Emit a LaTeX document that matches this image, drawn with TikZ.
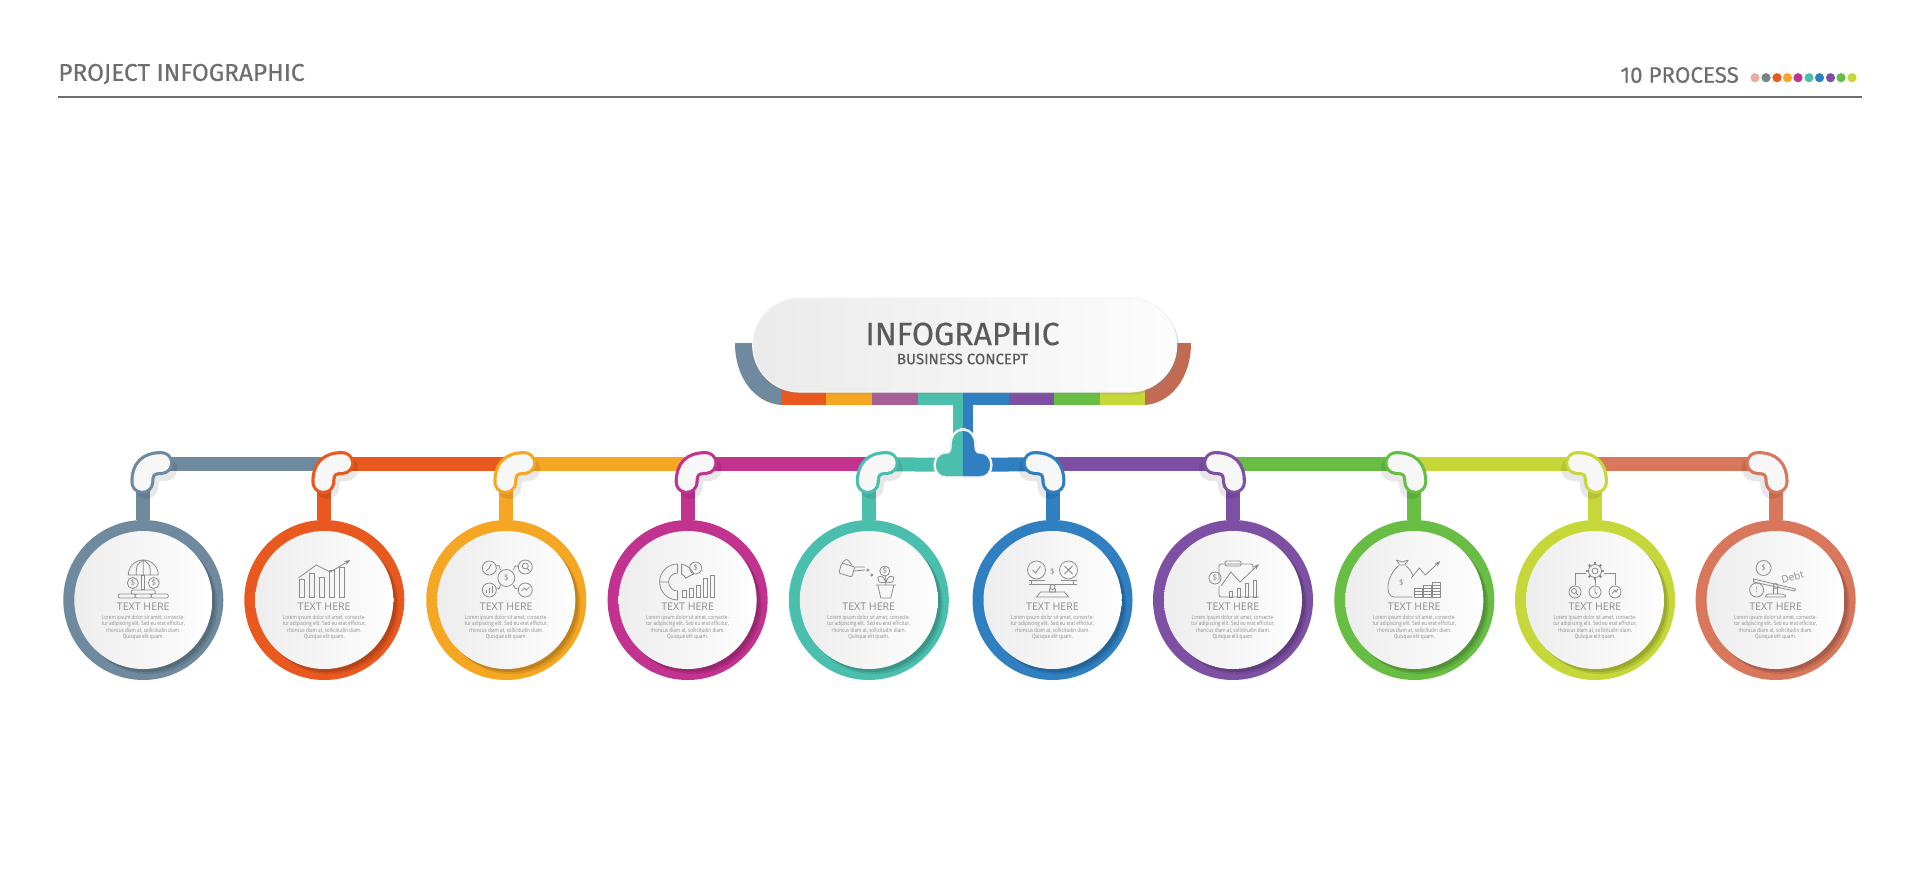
\documentclass[tikz,border=0pt]{standalone}
\usepackage{fontspec}
\setmainfont{Open Sans}
\newfontfamily\dinfont[FakeBold=.35]{Fira Sans}
\newfontfamily\bodyfont[FakeStretch=.8]{Open Sans}
\usetikzlibrary{shadows,arrows.meta}
\definecolor{ringslate}{HTML}{6F8A9E}
\definecolor{ringorange}{HTML}{E8581F}
\definecolor{ringamber}{HTML}{F5A623}
\definecolor{ringmagenta}{HTML}{C2328F}
\definecolor{ringteal}{HTML}{4BBFAE}
\definecolor{ringblue}{HTML}{2F7FC1}
\definecolor{ringpurple}{HTML}{7D50A3}
\definecolor{ringgreen}{HTML}{68BD45}
\definecolor{ringlime}{HTML}{C6D73A}
\definecolor{ringsalmon}{HTML}{D8775C}
\definecolor{bandmagenta}{HTML}{A65F95}
\definecolor{iconink}{HTML}{8C8C8C}
\definecolor{headink}{HTML}{6E6E6E}
\definecolor{titleink}{HTML}{5A5A5A}
\newcommand\loremtext{Lorem ipsum dolor sit amet, consecte-\\tur adipiscing elit. Sed eu erat efficitur,\\rhoncus diam at, sollicitudin diam.\\Quisque elit quam.}
\newcommand\iconUmbrella{
  \draw (-15,-25) arc[start angle=180,end angle=360,radius=15] -- cycle;
  \draw (0,-40) .. controls (-7,-35) .. (-7,-25) (0,-40) .. controls (7,-35) .. (7,-25) (0,-40) -- (0,-25);
  \draw (-1.5,-25) rectangle (1.5,-11);
  \draw (-10.5,-17) circle (5.5) (10.5,-17) circle (5.5);
  \node[icontext] at (-10.5,-17) {\$};
  \node[icontext] at (10.5,-17) {\$};
  \draw[rounded corners=.6pt] (-25,-6) rectangle (-8,-2) (-12,-10) rectangle (12,-6) (-8,-6) rectangle (8,-2) (8,-6) rectangle (25,-2);
}
\newcommand\iconChart{
  \foreach \a/\t in {-25/-21,-15/-27,-5/-23,5/-30,15/-33}
    \draw (\a,-3) rectangle (\a+5,\t);
  \draw[-{Stealth[length=3pt]}] (-26,-22) -- (-8,-35) -- (6,-28) -- (26,-40);
}
\newcommand\iconNetwork{
  \draw (0,-22) circle (8.5);
  \node[icontext] at (0,-22) {\$};
  \foreach \a/\b in {-17/-32,19/-33,-17/-10,19/-10}
    \draw (\a,\b) circle (7);
  \draw (-17,-32) -- (-15,-36) (-17,-32) -- (-20,-29);
  \draw (19,-34) circle (3) (21,-32) -- (23,-29);
  \draw (-20,-7) -- (-20,-10) (-17,-7) -- (-17,-12) (-14,-7) -- (-14,-14);
  \draw (15,-9) -- (18,-12) -- (20,-10) -- (23,-13);
  \draw (-10,-34) .. controls (-7,-35) .. (-6,-30) (12,-33) .. controls (9,-35) .. (7,-30) (-10,-11) .. controls (-7,-11) .. (-6,-15) (12,-11) .. controls (9,-11) .. (7,-15);
}
\newcommand\iconDonut{
  \draw (-10,-36) arc[start angle=270,end angle=90,radius=18];
  \draw (-6,-36) arc[start angle=-77,end angle=-25,radius=18];
  \draw (-10,-27) arc[start angle=270,end angle=90,radius=9];
  \draw (-6,-26) arc[start angle=-65,end angle=-25,radius=9];
  \draw (-10,-36) -- (-10,-27) (-28,-18) -- (-19,-18) (-10,-9) -- (-10,0) (-6,-36) -- (-6,-26) (6,-26) -- (-2,-22);
  \draw (8,-32) circle (6);
  \node[icontext] at (8,-32) {\$};
  \foreach \a/\t in {-5/-10,2/-12,9/-15,16/-22,23/-25}
    \draw (\a,-3) rectangle (\a+4,\t);
}
\newcommand\iconCan{
  \draw[rounded corners=.6pt] (-27,-37) -- (-14,-33) -- (-17,-23) -- (-30,-27) -- cycle;
  \draw (-14,-33) -- (-4,-33) (-15,-29) -- (-4,-30) (-27,-37) .. controls (-22,-42) .. (-17,-35);
  \draw (-1,-30) circle (1) (3,-25) circle (1);
  \draw (16,-29) circle (5);
  \node[icontext] at (16,-29) {\$};
  \draw (17,-15) -- (17,-24) (17,-18) .. controls (10,-17) .. (9,-23) .. controls (14,-24) .. (17,-18) (17,-18) .. controls (24,-17) .. (25,-23) .. controls (20,-24) .. (17,-18);
  \draw (7,-15) -- (27,-15) (9,-15) -- (12,-2) -- (22,-2) -- (25,-15);
}
\newcommand\iconScales{
  \draw (-16,-30) circle (9) (16,-30) circle (9);
  \draw (-20,-30) -- (-17,-27) -- (-12,-34) (12,-34) -- (20,-26) (20,-34) -- (12,-26);
  \node[icontext] at (0,-28) {\$};
  \draw (-24,-20) -- (-8,-20) (8,-20) -- (24,-20) (-24,-16) -- (24,-16);
  \draw (-21,-20) -- (-21,-16) (21,-20) -- (21,-16);
  \draw (0,-13) circle (2.5) (-3,-8) -- (3,-8) -- (3,-11) -- (-3,-11) -- cycle;
  \draw (-16,-3) -- (-12,-8) -- (12,-8) -- (16,-3) -- cycle;
}
\newcommand\iconClipboard{
  \draw[rounded corners=1pt] (-14,-20) -- (-14,-36) -- (20,-36) -- (20,-30) (-14,-14) -- (-14,-3) -- (26,-3);
  \draw[rounded corners=.6pt] (-8,-39) rectangle (8,-34);
  \draw (-18,-22) circle (6);
  \node[icontext] at (-18,-22) {\$};
  \foreach \a/\t in {-4/-9,4/-12,12/-17,20/-20}
    \draw (\a,-3) rectangle (\a+3.5,\t);
  \draw[-{Stealth[length=3pt]}] (-12,-14) -- (-2,-28) -- (7,-18) -- (26,-36);
}
\newcommand\iconBag{
  \draw (-16,-35) -- (-8,-35) (-18,-40) -- (-15,-36) (-6,-40) -- (-9,-36) (-18,-40) -- (-12,-38) -- (-6,-40);
  \draw (-16,-34) .. controls (-28,-24) and (-30,-3) .. (-20,-3) -- (-2,-3) (-8,-34) .. controls (-4,-30) .. (-1,-24);
  \node[icontext] at (-13,-17) {\$};
  \draw[-{Stealth[length=3pt]}] (-3,-22) -- (5,-32) -- (11,-25) -- (26,-39);
  \foreach \a/\n in {0/3,9/4,18/5}
    \foreach \l in {1,...,\n}
      \draw (\a,-\l*3) rectangle (\a+8,-\l*3-3);
}
\newcommand\iconGear{
  \draw (0,-29) circle (6.5) (0,-29) circle (3);
  \foreach \t in {0,45,...,315}
    \draw[line width=1pt] (\t:6.5) ++(0,-29) -- ++(\t:2.5);
  \draw (-9,-27) -- (-20,-27) -- (-20,-15) (9,-27) -- (20,-27) -- (20,-15) (0,-20) -- (0,-15);
  \foreach \a in {-20,0,20}
    \draw (\a,-8) circle (6);
  \draw (-21,-9) circle (2.5) (-19,-7) -- (-17,-5);
  \draw (0,-12) -- (0,-8) -- (2,-6);
  \draw (17,-6) -- (20,-10) -- (21,-8) -- (23,-11);
}
\newcommand\iconDebt{
  \draw (-12,-32) circle (7.5);
  \node[icontext] at (-12,-32) {\$};
  \draw (-19,-10) circle (7);
  \node[icontext] at (-19,-10) {!};
  \draw (-22,-21) -- (20,-11) -- (19,-9) -- (-22,-18) -- cycle;
  \draw (0,-14) circle (2.5) (-2,-12) -- (-2,-6) (2,-12) -- (2,-6);
  \draw[rounded corners=.6pt] (-8,-6) -- (8,-6) -- (11,-3) -- (-11,-3) -- cycle;
  \node[icontext,rotate=15,font=\fontsize{5}{6}\selectfont] at (17,-23) {Debt};
}
\begin{document}
\begin{tikzpicture}[x=.5pt,y=-.5pt,
    iconline/.style={draw=iconink,line width=.4pt},
    icontext/.style={text=iconink,inner sep=0pt,font=\fontsize{4}{4}\selectfont},
    ringdisc/.style={circle,inner sep=0pt,minimum size=80pt},
    innerdisc/.style={circle,inner sep=0pt,minimum size=69pt,left color=black!7,right color=black!0.5},
    barline/.style={line width=7pt},
    beanline/.style={line cap=round,line width=1.6pt,double=black!3,double distance=8.8pt},
    beanshade/.style={line cap=round,line width=12pt,black,opacity=.09},
    headtext/.style={text=iconink,inner sep=0pt,font=\fontsize{5.3}{6}\selectfont},
    bodytext/.style={text=black!45,inner sep=0pt,align=center,font=\bodyfont\fontsize{2.9}{3.25}\selectfont},
    topline/.style={text=headink,inner sep=0pt},
    banner/.style={rounded corners=23.5pt,minimum width=212pt,minimum height=47pt,inner sep=0pt,
      left color=black!8,right color=black!1,draw=black!4,line width=.6pt,
      drop shadow={shadow xshift=1.2pt,shadow yshift=-1.2pt,opacity=.25}}]
  \useasboundingbox (0,0) rectangle (1920,894);
  % top strip
  \node[topline,anchor=west,font=\dinfont\fontsize{12.2}{13}\selectfont] (title) at (58,74) {PROJECT INFOGRAPHIC};
  \node[topline,anchor=west,font=\dinfont\fontsize{11.2}{12}\selectfont] (count) at (1620,75) {10 PROCESS};
  \coordinate (ruleL) at (58,97);
  \coordinate (ruleR) at (1862,97);
  \draw[draw=headink,line width=.75pt] (ruleL) -- (ruleR);
  \foreach \x/\col in {1755/ringsalmon!60,1766/ringslate!30!gray,1777/ringorange,1787.5/ringamber,1798/ringmagenta,1809/ringteal,1819.5/ringblue,1830.5/ringpurple,1841/ringgreen,1852/ringlime}
    \fill[\col] (\x,77.7) circle (4.6);
  % coloured band under the banner
  \fill[ringslate] (735,343) .. controls (735,378) and (755,403) .. (781,405) -- (781,370) -- (760,343) -- cycle;
  \fill[ringsalmon!90!black] (1191,343) .. controls (1191,378) and (1171,403) .. (1145,405) -- (1145,370) -- (1170,343) -- cycle;
  \foreach \x/\col in {780.7/ringorange,826.3/ringamber,872/bandmagenta,917.5/ringteal,963/ringblue,1008.5/ringpurple,1054/ringgreen,1099.5/ringlime}
    \fill[\col] (\x,380) rectangle (\x+45.6,405);
  \node[banner] (head) at (964.7,345) {};
  \node[text=titleink,inner sep=0pt,font=\dinfont\fontsize{16}{17}\selectfont] (headA) at (962.5,334) {INFOGRAPHIC};
  \node[text=titleink,inner sep=0pt,font=\dinfont\fontsize{7.5}{8}\selectfont] (headB) at (962.5,359) {BUSINESS CONCEPT};
  % rings, stems, captions and icons
  \foreach \n/\x/\col/\ic in {1/143.3/ringslate/\iconUmbrella,2/324.3/ringorange/\iconChart,3/506.3/ringamber/\iconNetwork,4/687.6/ringmagenta/\iconDonut,5/868.8/ringteal/\iconCan,6/1052.5/ringblue/\iconScales,7/1233/ringpurple/\iconClipboard,8/1414.3/ringgreen/\iconBag,9/1595/ringlime/\iconGear,10/1775.6/ringsalmon/\iconDebt}{
    \coordinate (knob\n) at (\x,464);
    \node[ringdisc,fill=\col] (ring\n) at (\x,600) {};
    \draw[draw=\col,line width=7pt] (knob\n) -- (ring\n);
    \fill[black,opacity=.1] (\x+5,605) circle (69);
    \fill[black,opacity=.12] (\x+3,603) circle (69);
    \node[innerdisc] (disc\n) at (\x,600) {};
    \node[headtext] (cap\n) at (\x,606.5) {TEXT HERE};
    \node[bodytext] (txt\n) at (\x,627.5) {\loremtext};
    \begin{scope}[shift={(\x,600)},iconline]
      \ic
    \end{scope}
  }
  % bars between the knobs
  \coordinate (hub) at (963,465);
  \foreach \a/\b/\col in {knob1/knob2/ringslate,knob2/knob3/ringorange,knob3/knob4/ringamber,knob4/knob5/ringmagenta,knob5/hub/ringteal,hub/knob6/ringblue,knob6/knob7/ringpurple,knob7/knob8/ringgreen,knob8/knob9/ringlime,knob9/knob10/ringsalmon}
    \draw[barline,draw=\col] (\a) -- (\b);
  \fill[ringteal] (953,405) rectangle (963,440);
  \fill[ringblue] (963,405) rectangle (972.5,440);
  % knobs
  \foreach \n/\s/\col in {1/1/ringslate,2/1/ringorange,3/1/ringamber,4/1/ringmagenta,5/1/ringteal,6/-1/ringblue,7/-1/ringpurple,8/-1/ringgreen,9/-1/ringlime,10/-1/ringsalmon}{
    \begin{scope}[shift={(knob\n)},xscale=\s]
      \draw[beanshade] (3,23) .. controls (3,10) and (9,5) .. (22,5);
      \draw[beanline,draw=\col] (-1,18) .. controls (-1,5) and (5,-1) .. (18,-1);
    \end{scope}
  }
  % centre hub
  \foreach \s/\col/\w in {1/black!4/2.6pt,-1/black!4/2.6pt,1/ringteal/.1pt,-1/ringblue/.1pt}
    \filldraw[fill=\col,draw=\col,shift={(hub)},xscale=\s,line width=\w]
      (0,-34) .. controls (-7,-34) and (-11,-28) .. (-11,-20) .. controls (-11,-13) and (-13,-11) .. (-17,-11)
      .. controls (-24,-11) and (-27,-5) .. (-27,0) .. controls (-27,6) and (-23,11) .. (-17,11) -- (0,11) -- cycle;
\end{tikzpicture}
\end{document}
